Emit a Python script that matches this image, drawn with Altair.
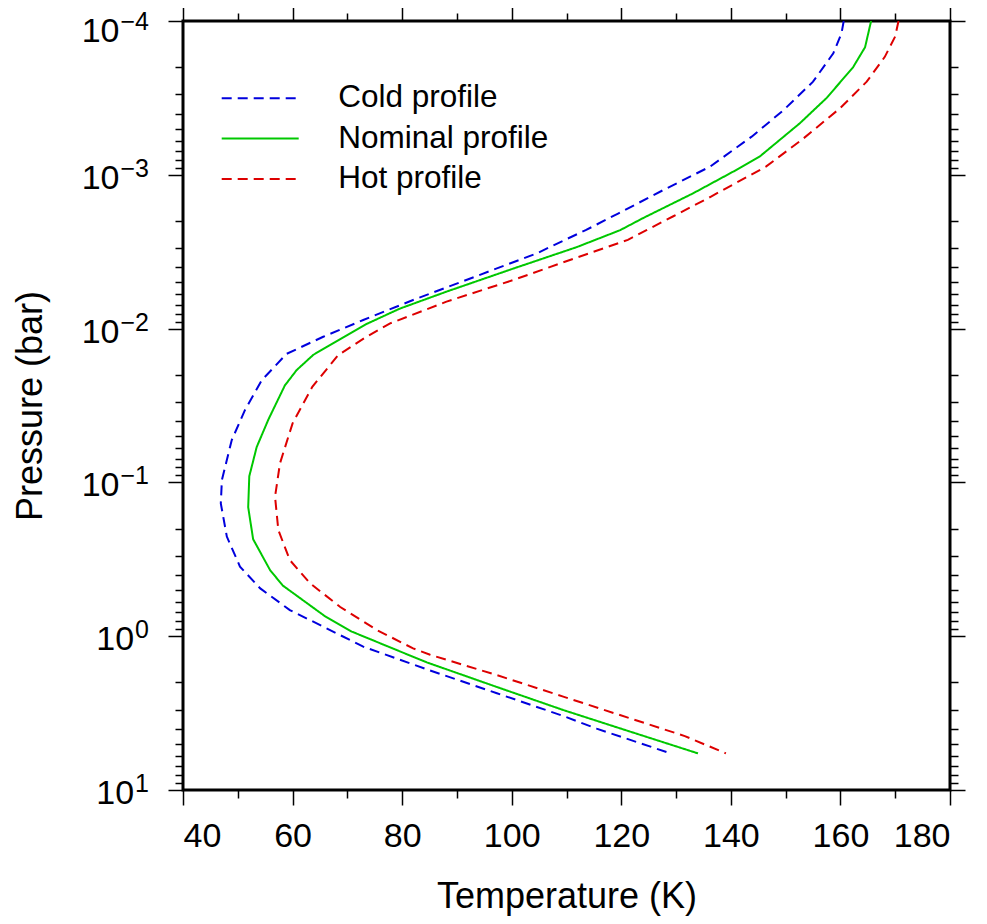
import altair as alt
import pandas as pd

# ---- data (temperature in K, pressure in bar) ----
cold_T = [160.6, 160.2, 158.7, 155.0, 149.6, 143.8, 136.2, 127.6, 119.5, 113.5,
          109.7, 104.6, 94.2, 82.0, 72.9, 65.6, 58.9, 54.4, 51.3, 48.9,
          47.1, 46.9, 48.0, 50.4, 54.1, 59.5, 65.6, 72.9, 85.1, 97.3,
          109.4, 115.5, 129.0]
cold_P = [1.00e-4, 1.20e-4, 1.62e-4, 2.48e-4, 3.80e-4, 5.65e-4, 8.85e-4, 1.26e-3, 1.78e-3, 2.29e-3,
          2.65e-3, 3.24e-3, 4.47e-3, 6.52e-3, 8.79e-3, 1.13e-2, 1.46e-2, 2.16e-2, 3.39e-2, 5.30e-2,
          9.64e-2, 0.137, 0.225, 0.353, 0.489, 0.676, 0.867, 1.17, 1.67, 2.35,
          3.30, 3.99, 5.78]

nom_T = [165.6, 164.5, 162.3, 157.5, 152.6, 145.3, 140.4, 133.1, 124.0, 119.8,
         111.9, 100.3, 88.1, 79.6, 73.5, 63.8, 60.75, 58.6, 55.6, 53.45,
         52.1, 51.9, 52.8, 55.9, 58.2, 65.9, 70.8, 77.5, 84.5, 97.3,
         109.4, 121.6, 134.0]
nom_P = [1.00e-4, 1.48e-4, 2.00e-4, 3.16e-4, 4.62e-4, 7.59e-4, 9.55e-4, 1.32e-3, 1.91e-3, 2.29e-3,
         2.95e-3, 4.07e-3, 5.75e-3, 7.41e-3, 9.33e-3, 1.48e-2, 1.86e-2, 2.34e-2, 3.89e-2, 5.89e-2,
         9.12e-2, 0.145, 0.234, 0.372, 0.468, 0.741, 0.933, 1.17, 1.48, 2.14,
         3.02, 4.17, 5.78]

hot_T = [170.6, 170.0, 168.1, 164.8, 159.9, 152.9, 146.4, 136.3, 129.5, 124.6,
         121.2, 111.5, 100.3, 88.1, 77.8, 73.5, 68.3, 63.6, 60.0, 57.7,
         56.8, 57.4, 59.5, 63.2, 68.7, 75.4, 82.0, 85.1, 97.3, 109.4,
         121.6, 131.6, 139.1]
hot_P = [1.00e-4, 1.26e-4, 1.71e-4, 2.48e-4, 3.70e-4, 5.94e-4, 8.85e-4, 1.39e-3, 1.86e-3, 2.29e-3,
         2.65e-3, 3.49e-3, 4.83e-3, 6.68e-3, 9.25e-3, 1.13e-2, 1.49e-2, 2.39e-2, 4.13e-2, 7.52e-2,
         0.124, 0.204, 0.320, 0.453, 0.646, 0.912, 1.20, 1.32, 1.79, 2.47,
         3.42, 4.46, 5.78]

profiles = ["Cold profile", "Nominal profile", "Hot profile"]
colors = ["#0000dd", "#00c800", "#dd0000"]
dashes = [[10, 6], [1, 0], [10, 6]]

# axis ticks
x_major = [40, 60, 80, 100, 120, 140, 160, 180]
x_minor = [50, 70, 90, 110, 130, 150, 170]
y_major = [1e-4, 1e-3, 1e-2, 1e-1, 1, 10]
y_exponents = ["\u22124", "\u22123", "\u22122", "\u22121", "0", "1"]
y_minor = [m * d for d in [1e-4, 1e-3, 1e-2, 1e-1, 1] for m in range(2, 10)]

FONT = "Liberation Sans"

rows = []
for name, Ts, Ps in zip(profiles, [cold_T, nom_T, hot_T], [cold_P, nom_P, hot_P]):
    for i, (t, p) in enumerate(zip(Ts, Ps)):
        rows.append({"profile": name, "T": t, "P": p, "i": i})
df = pd.DataFrame(rows)

xs = alt.Scale(domain=[40, 180], nice=False, zero=False)
ys = alt.Scale(type="log", domain=[1e-4, 10], reverse=True, nice=False)


def xaxis(orient, values, size, labels=False, title=None, **kw):
    return alt.Axis(orient=orient, values=values, tickSize=size, labels=labels,
                    title=title, grid=False, domain=False, **kw)


legend = alt.Legend(orient="none", legendX=37.7, legendY=62.3, title=None,
                    symbolType="stroke", symbolSize=5929, symbolStrokeWidth=2,
                    labelFontSize=31.5, labelFont=FONT, labelColor="black",
                    labelOffset=38.6, clipHeight=30, rowPadding=8.3, padding=0,
                    labelLimit=0)

lines = alt.Chart(df).mark_line(strokeWidth=2, clip=True).encode(
    x=alt.X("T:Q", scale=xs,
            axis=xaxis("bottom", x_major, 15, labels=True, title="Temperature (K)",
                       labelPadding=14, titlePadding=26)),
    y=alt.Y("P:Q", scale=ys,
            axis=xaxis("left", y_major, 15, labels=False, title="Pressure (bar)",
                       titlePadding=118)),
    color=alt.Color("profile:N", scale=alt.Scale(domain=profiles, range=colors), legend=legend),
    strokeDash=alt.StrokeDash("profile:N", scale=alt.Scale(domain=profiles, range=dashes),
                              legend=legend),
    order=alt.Order("i:Q"),
)


def ghost(xa, ya):
    return alt.Chart(df).mark_point(opacity=0).encode(
        x=alt.X("T:Q", scale=xs, axis=xa),
        y=alt.Y("P:Q", scale=ys, axis=ya),
    )


g1 = ghost(xaxis("bottom", x_minor, 8), xaxis("left", y_minor, 8))
g2 = ghost(xaxis("top", x_major, 16), xaxis("right", y_major, 15))
g3 = ghost(xaxis("top", x_minor, 8), xaxis("right", y_minor, 8))

# y tick labels as 10^n with a real superscript
EXP_SIZE = 25
lab_rows = []
for p, e in zip(y_major, y_exponents):
    w = sum(0.584 if ch == "\u2212" else 0.556 for ch in e) * EXP_SIZE
    lab_rows.append({"P": p, "base": "10", "exp": e, "bx": -34 - w - 1})
labdf = pd.DataFrame(lab_rows)


def tick_labels(data, shift):
    base_txt = alt.Chart(data).mark_text(font=FONT, fontSize=34, align="right",
                                         baseline="middle", dy=4 + shift,
                                         color="black").encode(
        y=alt.Y("P:Q", scale=ys, axis=None),
        x=alt.X("bx:Q", scale=None),
        text="base:N",
    )
    exp_txt = alt.Chart(data).mark_text(font=FONT, fontSize=EXP_SIZE, align="right",
                                        baseline="middle", dy=-6 + shift,
                                        color="black").encode(
        y=alt.Y("P:Q", scale=ys, axis=None),
        x=alt.value(-34),
        text="exp:N",
    )
    return [base_txt, exp_txt]


# the topmost label is nudged down a little so that it stays inside the page
labels_top = tick_labels(labdf.iloc[:1], 7)
labels_rest = tick_labels(labdf.iloc[1:], 0)

chart = alt.layer(lines, g1, g2, g3, *labels_top, *labels_rest).resolve_axis(
    x="independent", y="independent"
).properties(
    width=767, height=769,
    padding={"left": 175, "top": 13, "right": 20, "bottom": 126},
    autosize="none",
).configure_view(
    stroke="black", strokeWidth=3
).configure_axis(
    tickColor="black", tickWidth=1.5, labelFont=FONT, labelFontSize=34,
    labelColor="black", titleFont=FONT, titleFontSize=36, titleFontWeight="normal",
    titleColor="black",
)

chart.save("out.html", embed_options={"renderer": "svg", "actions": False})
